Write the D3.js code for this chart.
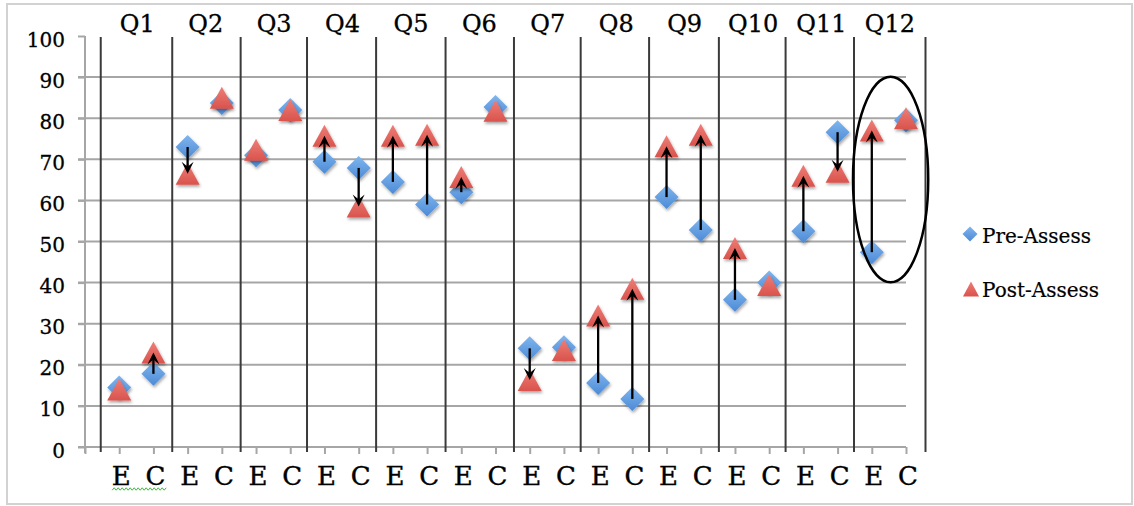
<!DOCTYPE html>
<html><head><meta charset="utf-8">
<script src="https://cdn.jsdelivr.net/npm/d3@7/dist/d3.min.js"></script>
<style>body{margin:0;background:#fff}svg{display:block}</style>
</head><body>
<svg id="c" width="1134" height="506"></svg>
<script>
const questions = ["Q1","Q2","Q3","Q4","Q5","Q6","Q7","Q8","Q9","Q10","Q11","Q12"];
const groups = ["E","C"];
const preAssess  = [14.5,17.8, 73,83.7, 71,82, 69.4,67.9, 64.5,59, 62,82.7, 24,24.3, 15.6,11.7, 60.8,52.8, 35.8,40, 52.5,76.6, 47.4,79.5];
const postAssess = [14,23, 66.5,85, 72.3,82, 75.7,58.5, 75.7,76, 65.7,81.8, 16.3,23.6, 32,38.5, 73.2,76, 48.4,39.4, 66,67, 77,80];
const arrowIdx = [1,2,6,7,8,9,10,12,14,15,16,17,18,20,21,22];
const yTicks = [0,10,20,30,40,50,60,70,80,90,100];
const separators = [0.46,2.55,4.55,6.49,8.51,10.54,12.54,14.49,16.49,18.53,20.48,22.48,24.57];
const legendLabels = ["Pre-Assess","Post-Assess"];
const highlight = {q:"Q12", cx:23.55, cy:65.1, rx:1.1, ry:25};

const svg = d3.select("#c");
const FONT = "DejaVu Serif";
const x = d3.scaleLinear().domain([0,24]).range([85,906]);
const y = d3.scaleLinear().domain([0,100]).range([447,36]);

svg.append("rect").attr("x",7).attr("y",4).attr("width",1125).attr("height",500)
  .attr("fill","#fff").attr("stroke","#d2d2d2").attr("stroke-width",2);

const defs = svg.append("defs");
const f = defs.append("filter").attr("id","sh").attr("x","-50%").attr("y","-50%").attr("width","200%").attr("height","200%");
f.append("feDropShadow").attr("dx",1).attr("dy",2).attr("stdDeviation",1.5).attr("flood-color","#000").attr("flood-opacity",0.35);
const gb = defs.append("linearGradient").attr("id","gb").attr("x1",0).attr("y1",0).attr("x2",0).attr("y2",1);
gb.append("stop").attr("offset","0%").attr("stop-color","#80b6ee");
gb.append("stop").attr("offset","100%").attr("stop-color","#4c8ad6");
const gr = defs.append("linearGradient").attr("id","gr").attr("x1",0).attr("y1",0).attr("x2",0).attr("y2",1);
gr.append("stop").attr("offset","0%").attr("stop-color","#ee7e78");
gr.append("stop").attr("offset","100%").attr("stop-color","#d9534c");

svg.append("g").selectAll("line").data(yTicks.filter(d=>d>0 && d<100)).join("line")
  .attr("x1",78).attr("x2",x(24)).attr("y1",d=>y(d)).attr("y2",d=>y(d))
  .attr("stroke","#a6a6a6").attr("stroke-width",2);
const yAxis = d3.axisLeft(y).tickValues(yTicks).tickSize(7).tickPadding(13);
const ga = svg.append("g").attr("transform","translate(85,0)").call(yAxis);
ga.select(".domain").attr("stroke","#a6a6a6").attr("stroke-width",2).attr("d","M0,"+y(100)+"V453");
ga.selectAll(".tick line").attr("stroke","#a6a6a6").attr("stroke-width",2);
ga.selectAll(".tick text").attr("font-family",FONT).attr("font-size",20).attr("fill","#000")
  .attr("stroke","#000").attr("stroke-width",0.3).attr("dy","0.5em");
svg.append("line").attr("x1",78).attr("x2",x(24)).attr("y1",y(0)).attr("y2",y(0)).attr("stroke","#a6a6a6").attr("stroke-width",2);
const xt = d3.range(0,25);
const xAxis = d3.axisBottom(x).tickValues(xt).tickSize(7).tickFormat("");
const gx = svg.append("g").attr("transform","translate(0,"+y(0)+")").call(xAxis);
gx.select(".domain").remove();
gx.selectAll(".tick line").attr("stroke","#a6a6a6").attr("stroke-width",2);

svg.append("g").selectAll("line").data(separators).join("line")
  .attr("x1",d=>x(d)).attr("x2",d=>x(d)).attr("y1",37).attr("y2",452)
  .attr("stroke","#3a3a3a").attr("stroke-width",2);

const cats = d3.range(24).map(i=>({i, g:groups[i%2], q:questions[Math.floor(i/2)]}));
svg.append("g").selectAll("text").data(cats).join("text")
  .attr("x",d=>x(d.i+1)+2).attr("y",485).attr("text-anchor","middle")
  .attr("font-family",FONT).attr("font-size",26).attr("fill","#000")
  .attr("stroke","#000").attr("stroke-width",0.4).text(d=>d.g);
const wave = d3.range(0,28).map(k=>[x(1)-7+k*2, 489 + (k%2? -1.2:1.2)]);
svg.append("path").attr("d",d3.line()(wave)).attr("fill","none").attr("stroke","#3cb43c").attr("stroke-width",1);

svg.append("g").selectAll("text").data(questions).join("text")
  .attr("x",(d,i)=>x(i*2+1.5)+1).attr("y",32).attr("text-anchor","middle")
  .attr("font-family",FONT).attr("font-size",24).attr("fill","#000")
  .attr("stroke","#000").attr("stroke-width",0.3).text(d=>d);

const diamond = (cx,cy,r)=>`M${cx},${cy-r}L${cx+r},${cy}L${cx},${cy+r}L${cx-r},${cy}Z`;
const tri = (cx,cy,w,h)=>`M${cx},${cy-h/2}L${cx+w/2},${cy+h/2}L${cx-w/2},${cy+h/2}Z`;
svg.append("g").selectAll("path").data(preAssess).join("path")
  .attr("d",(d,i)=>diamond(x(i+1),y(d),12)).attr("fill","url(#gb)").attr("filter","url(#sh)");
svg.append("g").selectAll("path").data(postAssess).join("path")
  .attr("d",(d,i)=>tri(x(i+1),y(d),24,22)).attr("fill","url(#gr)").attr("filter","url(#sh)");

const ag = svg.append("g");
arrowIdx.forEach(i=>{
  const cx = x(i+1), y0 = y(preAssess[i]), y1 = y(postAssess[i]);
  const dir = y1 < y0 ? -1 : 1;
  ag.append("line").attr("x1",cx).attr("x2",cx).attr("y1",y0).attr("y2",y1 - dir*4)
    .attr("stroke","#000").attr("stroke-width",2.3);
  const L = 12, W = 6, N = 7;
  ag.append("path").attr("d",`M${cx},${y1}L${cx+W},${y1-dir*L}L${cx},${y1-dir*N}L${cx-W},${y1-dir*L}Z`).attr("fill","#000");
});

svg.append("ellipse").attr("cx",x(highlight.cx)).attr("cy",y(highlight.cy))
  .attr("rx",x(highlight.rx)-x(0)).attr("ry",y(0)-y(highlight.ry))
  .attr("fill","none").attr("stroke","#000").attr("stroke-width",2.5);

const lg = svg.append("g");
lg.append("path").attr("d",diamond(970,234,7.5)).attr("fill","url(#gb)");
lg.append("path").attr("d",tri(971,289,16,15)).attr("fill","url(#gr)");
lg.selectAll("text").data(legendLabels).join("text")
  .attr("x",982).attr("y",(d,i)=>243+i*54)
  .attr("font-family",FONT).attr("font-size",20).attr("fill","#000")
  .attr("stroke","#000").attr("stroke-width",0.2).text(d=>d);
</script>
</body></html>
